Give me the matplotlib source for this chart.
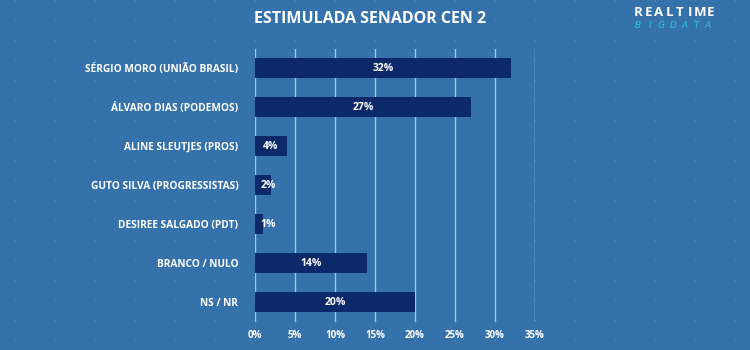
import matplotlib.pyplot as plt
import numpy as np

plt.rcParams['font.family'] = ['Open Sans', 'DejaVu Sans']

title = 'ESTIMULADA SENADOR CEN 2'
candidatos = ['SÉRGIO MORO (UNIÃO BRASIL)', 'ÁLVARO DIAS (PODEMOS)', 'ALINE SLEUTJES (PROS)',
              'GUTO SILVA (PROGRESSISTAS)', 'DESIREE SALGADO (PDT)', 'BRANCO / NULO', 'NS / NR']
valores = [32, 27, 4, 2, 1, 14, 20]
ticks = [0, 5, 10, 15, 20, 25, 30, 35]

bg = '#3572ab'
fig = plt.figure(figsize=(7.5, 3.5), dpi=100, facecolor=bg)

# fundo com pontinhos
bgax = fig.add_axes([0, 0, 1, 1], zorder=-1)
bgax.set_facecolor(bg)
gx, gy = np.meshgrid(np.arange(0.02, 1.0, 0.0533), np.arange(0.03, 1.0, 0.057))
bgax.scatter(gx.ravel(), gy.ravel(), s=1.2, color='#4f86bd', linewidths=0)
bgax.set_xlim(0, 1)
bgax.set_ylim(0, 1)
bgax.axis('off')

ax = fig.add_axes([0.34, 0.0814, 0.3733, 0.7796])
ax.patch.set_alpha(0)

y = np.arange(len(candidatos))
ax.barh(y, valores, height=0.52, color='#0c2a6a', zorder=3)
for yi, v in zip(y, valores):
    ax.text(max(v / 2, 1.7), yi, f'{v}%', ha='center', va='center', color='white',
            fontsize=7.5, fontweight='bold', zorder=4)

ax.set_xlim(0, 35)
ax.set_ylim(len(candidatos) - 0.5, -0.5)
ax.set_xticks(ticks)
ax.set_xticklabels([f'{t}%' for t in ticks], color='white', fontsize=7, fontweight='bold')
ax.set_yticks(y)
ax.set_yticklabels(candidatos, color='white', fontsize=7.3, fontweight='bold')
ax.tick_params(axis='y', length=0, pad=12)
ax.tick_params(axis='x', length=0, pad=6)
ax.grid(axis='x', color='#a7c4e2', linewidth=1, zorder=1)
for s in ax.spines.values():
    s.set_visible(False)

fig.text(0.493, 0.945, title, ha='center', va='center', color='white', fontsize=11.5, fontweight='bold')

# logo, letra por letra
for i, c in enumerate('REALTIME'):
    fig.text((638 + i * 10.4) / 750, 1 - 12 / 350, c, ha='center', va='center', color='white',
             fontsize=9.5, fontweight='bold')
for i, c in enumerate('BIGDATA'):
    fig.text((638 + i * 11.6) / 750, 1 - 25 / 350, c, ha='center', va='center', color='#29c6e6',
             fontsize=6.5, style='italic', family='DejaVu Sans')

fig.savefig('out.png', dpi=100, facecolor=bg)
